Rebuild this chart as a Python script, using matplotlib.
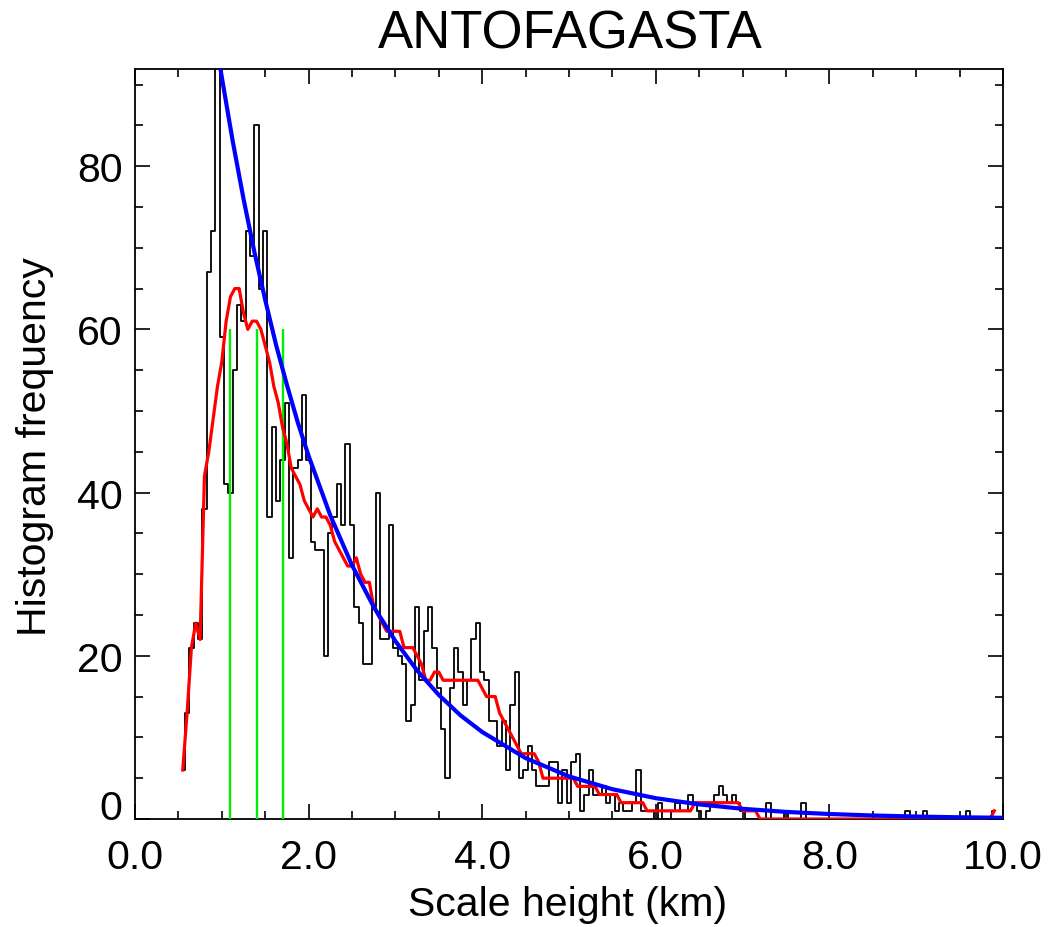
import numpy as np
import matplotlib
matplotlib.use('Agg')
import matplotlib.pyplot as plt
from matplotlib.ticker import MultipleLocator, FormatStrFormatter

plt.rcParams['font.family'] = ['Liberation Sans', 'DejaVu Sans']

# histogram: first bin centre, bin width (km) and counts per bin
bin_start = 0.55
bin_width = 0.05
counts = [
    6, 13, 21, 24, 22, 38, 67, 72, 100, 59,    # 0.55 - 1.00
    41, 40, 55, 63, 61, 72, 69, 85, 65, 72,    # 1.05 - 1.50
    37, 48, 39, 44, 51, 32, 43, 44, 52, 44,    # 1.55 - 2.00
    34, 33, 33, 20, 35, 37, 41, 36, 46, 36,    # 2.05 - 2.50
    26, 24, 19, 19, 26, 40, 22, 22, 36, 21,    # 2.55 - 3.00
    20, 19, 12, 14, 26, 17, 23, 26, 21, 16,    # 3.05 - 3.50
    11, 5, 16, 21, 18, 14, 17, 22, 24, 18,     # 3.55 - 4.00
    17, 12, 12, 9, 12, 6, 14, 18, 5, 6,        # 4.05 - 4.50
    9, 6, 4, 4, 4, 7, 7, 2, 6, 2,              # 4.55 - 5.00
    7, 8, 1, 3, 6, 3, 3, 4, 2, 3,              # 5.05 - 5.50
    1, 2, 1, 1, 2, 6, 1, 1, 1, 0,              # 5.55 - 6.00
    2, 0, 0, 1, 2, 1, 1, 3, 2, 1,              # 6.05 - 6.50
    0, 1, 2, 3, 4, 3, 2, 3, 2, 1,              # 6.55 - 7.00
    0, 0, 0, 0, 0, 2, 0, 0, 0, 1,              # 7.05 - 7.50
    0, 0, 0, 2, 0, 0, 0, 0, 0, 0,              # 7.55 - 8.00
    0, 0, 0, 0, 0, 0, 0, 0, 0, 0,              # 8.05 - 8.50
    0, 0, 0, 0, 0, 0, 0, 1, 0, 0,              # 8.55 - 9.00
    0, 1, 0, 0, 0, 0, 0, 0, 0, 0,              # 9.05 - 9.50
    0, 1, 0, 0, 0, 0, 0, 1,                    # 9.55 - 9.90
]

# exponential fit curve
fit_x = [0.95, 1.0, 1.125, 1.25, 1.375, 1.5, 1.625, 1.75, 1.875, 2.0,
         2.25, 2.5, 2.75, 3.0, 3.25, 3.5, 3.75, 4.0, 4.5, 5.0,
         5.5, 6.0, 6.5, 7.0, 7.5, 8.0, 8.5, 9.0, 9.5, 10.0]
fit_y = [94.2, 90.9, 83.1, 76.0, 69.5, 63.6, 58.1, 53.2, 48.6, 44.5,
         37.2, 31.1, 26.0, 21.8, 18.2, 15.2, 12.7, 10.66, 7.46, 5.22,
         3.65, 2.55, 1.79, 1.25, 0.87, 0.61, 0.43, 0.30, 0.21, 0.15]

# green markers (scale height and its range)
green_x = [1.1, 1.4, 1.7]
green_top = 60

yticks = [0, 20, 40, 60, 80]

counts = np.array(counts, dtype=float)
xh = bin_start + bin_width * np.arange(len(counts))

# running mean over 11 bins, edges left as they are, integer result
w = 11
h = w // 2
smooth = counts.copy()
smooth[h:-h] = np.convolve(counts, np.ones(w) / w, mode='valid')
smooth = np.floor(smooth + 0.5)

fig = plt.figure(figsize=(10.52, 9.28), dpi=100)
ax = fig.add_axes([135 / 1052, 1 - 820 / 928, 868 / 1052, 750 / 928])

ax.step(xh, counts, where='mid', color='black', lw=1.3, zorder=2)
ax.vlines(green_x, 0, green_top, color='#00ee00', lw=1.7, zorder=3)
ax.plot(xh, smooth, color='red', lw=2.3, zorder=4)
ax.plot(fit_x, fit_y, color='blue', lw=3.0, zorder=5)

ax.set_xlim(0, 10)
ax.set_ylim(0, 91.9)

ax.xaxis.set_major_locator(MultipleLocator(2))
ax.xaxis.set_minor_locator(MultipleLocator(0.5))
ax.xaxis.set_major_formatter(FormatStrFormatter('%.1f'))
ax.set_yticks(yticks)
ax.yaxis.set_minor_locator(MultipleLocator(5))

ax.tick_params(which='both', direction='in', top=True, right=True,
               width=1.2, labelsize=29.5)
ax.tick_params(which='major', length=11)
ax.tick_params(which='minor', length=6)
ax.tick_params(axis='x', pad=14)
ax.tick_params(axis='y', pad=9)
for s in ax.spines.values():
    s.set_linewidth(1.3)

# the zero label sits a little above the axis, as in the original
yt = ax.yaxis.get_major_ticks()
yt[0].label1.set_va('baseline')

ax.set_xlabel('Scale height (km)', fontsize=29.5)
ax.xaxis.set_label_coords(0.498, -0.113)
ax.xaxis.label.set_va('center')
ax.set_ylabel('Histogram frequency', fontsize=29.5)
ax.yaxis.set_label_coords(-0.115, 0.498)
ax.yaxis.label.set_va('center')
ax.text(0.501, 1.047, 'ANTOFAGASTA', transform=ax.transAxes,
        ha='center', va='center', fontsize=38)

fig.savefig('out.png', dpi=100)
